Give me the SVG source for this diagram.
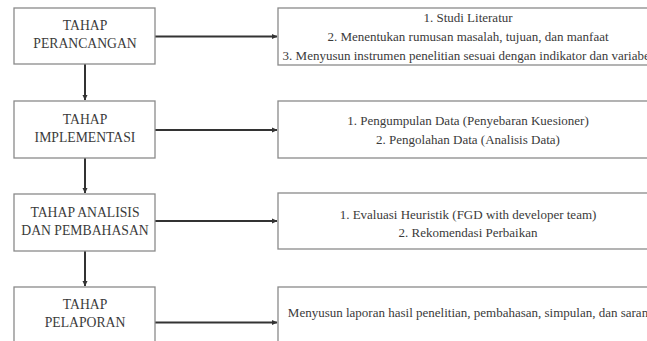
<svg xmlns="http://www.w3.org/2000/svg" width="647" height="341" viewBox="0 0 647 341">
<style>
.box{fill:#fff;stroke:#8a8a8a;stroke-width:1.3}
.lt{font-family:"Liberation Serif","Times New Roman",serif;font-size:13.7px;fill:#3a3a3a;text-anchor:middle}
.rt{font-family:"Liberation Serif","Times New Roman",serif;font-size:13px;fill:#3a3a3a;text-anchor:middle}
.con{stroke:#333;stroke-width:2;fill:none;marker-end:url(#ah)}
</style>
<defs>
<marker id="ah" markerWidth="6" markerHeight="6" refX="5" refY="3" orient="auto" markerUnits="userSpaceOnUse">
<path d="M0,0.5 L5.5,3 L0,5.5 Z" fill="#333"/>
</marker>
</defs>
<rect width="647" height="341" fill="#fff"/>
<g id="connectors">
<line class="con" x1="155" y1="36.5" x2="277" y2="36.5"/>
<line class="con" x1="155" y1="130" x2="277" y2="130"/>
<line class="con" x1="155" y1="221" x2="277" y2="221"/>
<line class="con" x1="155" y1="322.5" x2="277" y2="322.5"/>
<line class="con" x1="85" y1="64" x2="85" y2="100"/>
<line class="con" x1="85" y1="158" x2="85" y2="193"/>
<line class="con" x1="85" y1="251" x2="85" y2="286"/>
</g>
<g id="n1">
<rect class="box" x="14" y="8" width="141" height="56"/>
<text class="lt" x="85" y="30">TAHAP</text>
<text class="lt" x="85" y="48">PERANCANGAN</text>
</g>
<g id="n2">
<rect class="box" x="14" y="101" width="141" height="57"/>
<text class="lt" x="85" y="123.5">TAHAP</text>
<text class="lt" x="85" y="142">IMPLEMENTASI</text>
</g>
<g id="n3">
<rect class="box" x="14" y="194" width="141" height="57"/>
<text class="lt" x="85" y="217">TAHAP ANALISIS</text>
<text class="lt" x="85" y="235">DAN PEMBAHASAN</text>
</g>
<g id="n4">
<rect class="box" x="14" y="287" width="141" height="70"/>
<text class="lt" x="85" y="309">TAHAP</text>
<text class="lt" x="85" y="327">PELAPORAN</text>
</g>
<g id="r1">
<rect class="box" x="278" y="8" width="390" height="57"/>
<text class="rt" x="468" y="21.5">1. Studi Literatur</text>
<text class="rt" x="468" y="40.5">2. Menentukan rumusan masalah, tujuan, dan manfaat</text>
<text class="rt" x="468" y="59.5">3. Menyusun instrumen penelitian sesuai dengan indikator dan variabel</text>
</g>
<g id="r2">
<rect class="box" x="278" y="101" width="390" height="57"/>
<text class="rt" x="468" y="125">1. Pengumpulan Data (Penyebaran Kuesioner)</text>
<text class="rt" x="468" y="143.5">2. Pengolahan Data (Analisis Data)</text>
</g>
<g id="r3">
<rect class="box" x="278" y="193" width="390" height="56"/>
<text class="rt" x="468" y="219">1. Evaluasi Heuristik (FGD with developer team)</text>
<text class="rt" x="468" y="237">2. Rekomendasi Perbaikan</text>
</g>
<g id="r4">
<rect class="box" x="278" y="287" width="390" height="70"/>
<text class="rt" x="468" y="317">Menyusun laporan hasil penelitian, pembahasan, simpulan, dan saran</text>
</g>
</svg>
